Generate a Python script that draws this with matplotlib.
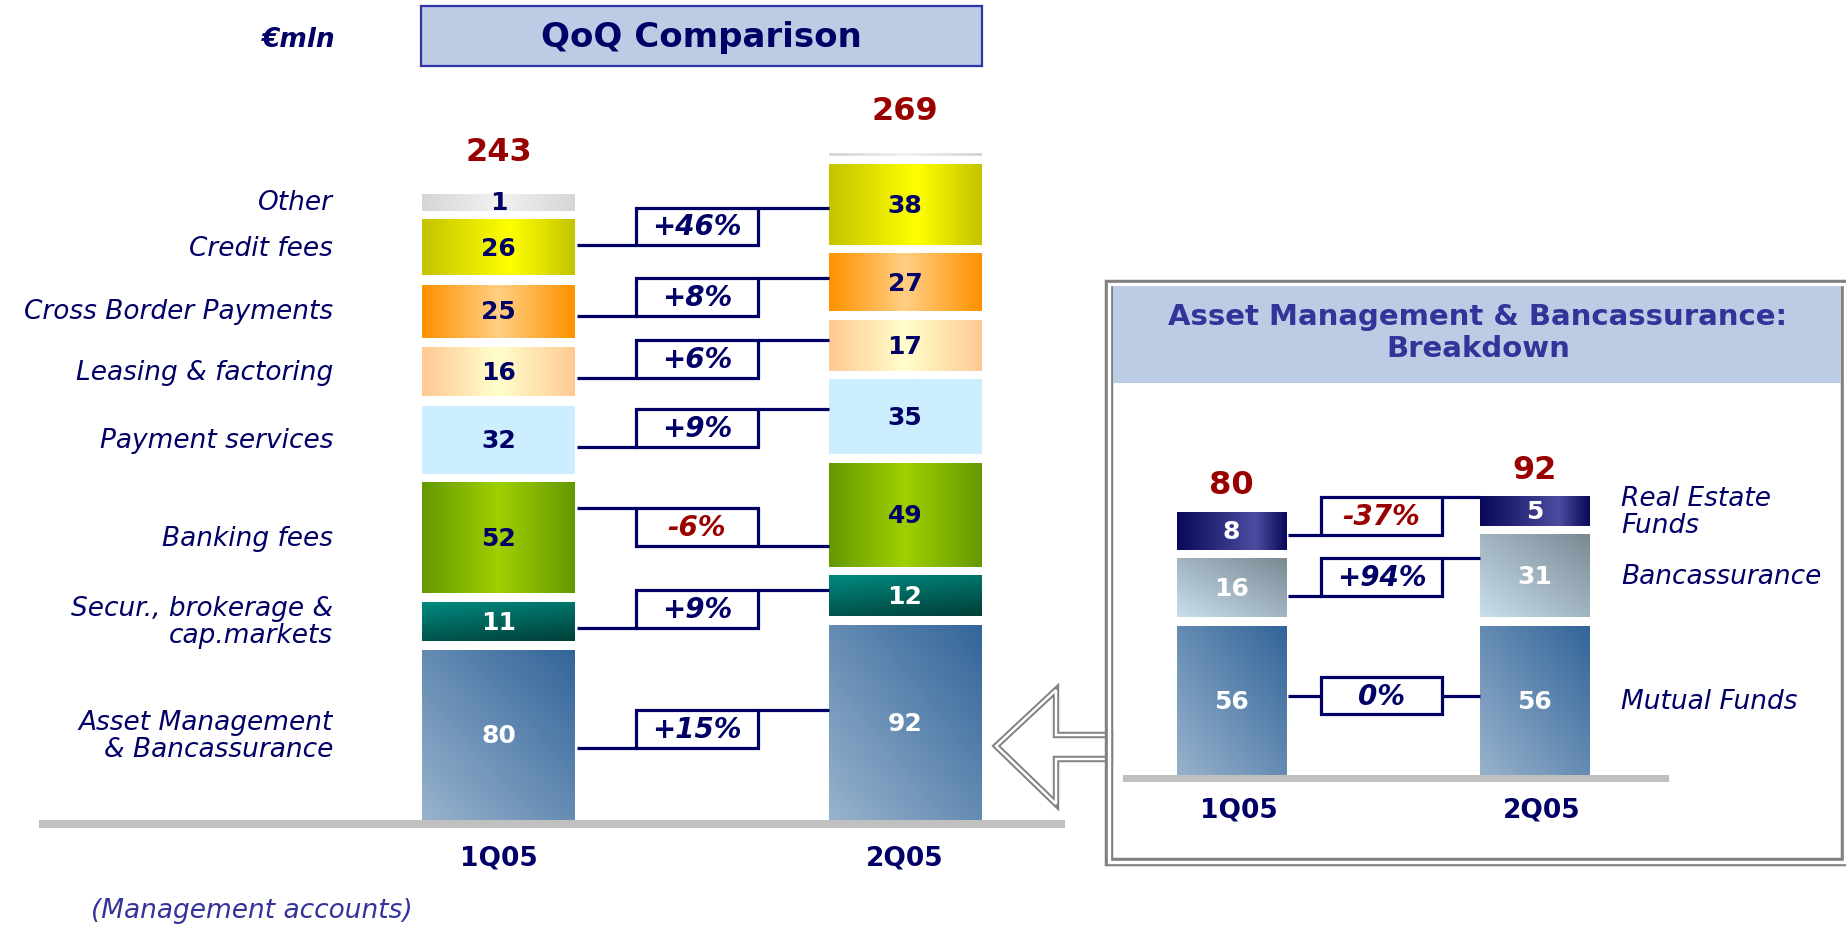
import numpy as np
import matplotlib
matplotlib.use('Agg')
import matplotlib.pyplot as plt
from matplotlib.patches import Rectangle, Polygon
from matplotlib.colors import to_rgb

# ---------------- data ----------------
periods = ['1Q05', '2Q05']
categories = ['Asset Management\n& Bancassurance', 'Secur., brokerage &\ncap.markets',
              'Banking fees', 'Payment services', 'Leasing & factoring',
              'Cross Border Payments', 'Credit fees', 'Other']
q1_values = [80, 11, 52, 32, 16, 25, 26, 1]
q2_values = [92, 12, 49, 35, 17, 27, 38, 0]
totals = [243, 269]
qoq_changes = ['+15%', '+9%', '-6%', '+9%', '+6%', '+8%', '+46%']

am_categories = ['Mutual Funds', 'Bancassurance', 'Real Estate\nFunds']
am_q1 = [56, 16, 8]
am_q2 = [56, 31, 5]
am_totals = [80, 92]
am_changes = ['0%', '+94%', '-37%']

# ---------------- styles ----------------
NAVY = '#000066'
RED = '#990000'
PURPLE = '#333399'
W, H = 1846, 928

# gradient specs per segment: (kind, color_a, color_b, centre)
left_styles = [
    ('diag', '#97b2cc', '#33659a', None),     # Asset management
    ('diag2', '#008a80', '#003f38', None),    # Secur.
    ('h3', '#669900', '#9fd000', 0.5),        # Banking
    ('flat', '#cceeff', '#cceeff', None),     # Payment
    ('h3', '#ffca94', '#ffffcc', 0.5),        # Leasing
    ('h3', '#ff9200', '#ffcf85', 0.5),        # Cross border
    ('h3', '#c4c400', '#ffff00', 0.58),       # Credit fees
    ('h3', '#d6d6d6', '#f2f2f2', 0.5),        # Other
]
left_text_colors = ['white', 'white', NAVY, NAVY, NAVY, NAVY, NAVY, NAVY]
am_styles = [
    ('diag', '#97b2cc', '#33659a', None),
    ('diag', '#c8dfea', '#7a8a95', None),
    ('h3', '#0a0a5c', '#4c4ca0', 0.72),
]
# connector orientation: +1 left line at box bottom / right at top, -1 reverse, 0 flat
left_link_dirs = [1, 1, -1, 1, 1, 1, 1]
am_link_dirs = [0, 1, 1]


def grad_img(kind, ca, cb, centre, n=64):
    a = np.array(to_rgb(ca))
    b = np.array(to_rgb(cb))
    xs = np.linspace(0, 1, n)
    ys = np.linspace(0, 1, n)  # row 0 = top
    X, Y = np.meshgrid(xs, ys)
    if kind == 'flat':
        t = np.zeros_like(X)
    elif kind == 'h3':
        t = np.where(X <= centre, X / centre, (1 - X) / (1 - centre))
    elif kind == 'diag':   # a at bottom-left -> b at top-right
        t = (X + (1 - Y)) / 2
    elif kind == 'diag2':  # a at top-left -> b at bottom-right
        t = (X * 0.4 + Y) / 1.4
    else:
        t = Y
    return a[None, None, :] * (1 - t[..., None]) + b[None, None, :] * t[..., None]


def stack(values, pad, gap, zero_h):
    bottoms, heights = [], []
    y = 0.0
    for i, v in enumerate(values):
        h = zero_h if v == 0 else (v + pad if v < 20 else v)
        if i > 0:
            y += gap
        bottoms.append(y)
        heights.append(h)
        y += h
    return bottoms, heights


def draw_stack(ax, x, values, bottoms, heights, width, styles, text_colors, fs):
    for v, b, h, st, tc in zip(values, bottoms, heights, styles, text_colors):
        ax.bar(x, h, bottom=b, width=width, color=st[2], linewidth=0, zorder=2)
        img = grad_img(*st)
        ax.imshow(img, extent=(x - width / 2, x + width / 2, b, b + h), origin='upper',
                  aspect='auto', interpolation='bilinear', zorder=2.5)
        if v > 0:
            ax.text(x, b + h / 2, str(v), ha='center', va='center', fontsize=fs,
                    fontweight='bold', color=tc, zorder=4)


def draw_changes(ax, changes, dirs, b1, h1, b2, h2, bar_w, box_x, box_w, box_h, y_off, fs, lw):
    for i, lab in enumerate(changes):
        c1 = b1[i] + h1[i] / 2
        c2 = b2[i] + h2[i] / 2
        cy = (c1 + c2) / 2 + y_off
        d = dirs[i]
        yl = cy - d * box_h / 2
        yr = cy + d * box_h / 2
        ax.plot([bar_w / 2 + 0.004, box_x - box_w / 2], [yl, yl], color=NAVY, lw=lw,
                solid_capstyle='butt', zorder=3)
        ax.plot([box_x + box_w / 2, 1 - bar_w / 2], [yr, yr], color=NAVY, lw=lw,
                solid_capstyle='butt', zorder=3)
        ax.add_patch(Rectangle((box_x - box_w / 2, cy - box_h / 2), box_w, box_h,
                               facecolor='white', edgecolor=NAVY, lw=lw, zorder=3.5))
        ax.text(box_x, cy, lab, ha='center', va='center', fontsize=fs, fontweight='bold',
                fontstyle='italic', color=RED if lab.startswith('-') else NAVY, zorder=4)


fig = plt.figure(figsize=(W / 100, H / 100), dpi=100)

# ---------------- decoration layer (pixel coordinates) ----------------
axD = fig.add_axes([0, 0, 1, 1])
axD.set_xlim(0, W)
axD.set_ylim(H, 0)
axD.axis('off')

axD.text(335, 40, '€mln', ha='right', va='center', fontsize=19, fontweight='bold',
         fontstyle='italic', color=NAVY)
axD.add_patch(Rectangle((421, 7), 561, 60, facecolor='#bccce4', edgecolor='#3333aa', lw=1.6))
axD.text(701, 37, 'QoQ Comparison', ha='center', va='center', fontsize=24.5,
         fontweight='bold', color=NAVY)
axD.text(91, 911, '(Management accounts)', ha='left', va='center', fontsize=19,
         fontstyle='italic', color=PURPLE)

# hollow arrow
arrow_pts = [(1110, 736), (1056, 736), (1056, 691), (996, 747), (1056, 805), (1056, 760), (1110, 760)]
axD.add_patch(Polygon(arrow_pts, closed=True, facecolor='white', edgecolor='#808080', lw=4.6,
                      joinstyle='miter'))
axD.add_patch(Polygon(arrow_pts, closed=True, facecolor='none', edgecolor='white', lw=1.8,
                      joinstyle='miter'))

# right panel
axD.add_patch(Rectangle((1109, 285), 736, 578, facecolor='none', edgecolor='#808080', lw=6.1))
axD.add_patch(Rectangle((1109, 285), 736, 578, facecolor='none', edgecolor='white', lw=2.4))
axD.add_patch(Rectangle((1113.3, 287.3), 727.4, 97, facecolor='#bccce4', edgecolor='none'))
axD.text(1478, 333, 'Asset Management & Bancassurance:\nBreakdown', ha='center', va='center',
         fontsize=21, fontweight='bold', color=PURPLE, linespacing=1.15)

# ---------------- left chart ----------------
x0_px, dx_px, base_px, s_px = 498.5, 406.5, 821.0, 2.119
axL = fig.add_axes([0, 0, 1, 1])
axL.patch.set_alpha(0)
axL.axis('off')
bar_w = 153 / dx_px

b1, h1 = stack(q1_values, 7, 4.5, 1.3)
b2, h2 = stack(q2_values, 7, 4.2, 1.3)
draw_stack(axL, 0, q1_values, b1, h1, bar_w, left_styles, left_text_colors, 18)
draw_stack(axL, 1, q2_values, b2, h2, bar_w, left_styles, left_text_colors, 18)

for i, (tot, b, h) in enumerate(zip(totals, [b1, b2], [h1, h2])):
    axL.text(i, b[-1] + h[-1] + 20, str(tot), ha='center', va='center', fontsize=23,
             fontweight='bold', color=RED)

for cat, b, h in zip(categories, b1, h1):
    axL.text(-0.407, b + h / 2, cat, ha='right', va='center', fontsize=19,
             fontstyle='italic', color=NAVY, linespacing=1.05)

draw_changes(axL, qoq_changes, left_link_dirs, b1, h1, b2, h2, bar_w, 0.488, 0.30, 17.9, 0, 20, 2.3)

axL.add_patch(Rectangle((-1.130, -3.8), 2.524, 3.8, facecolor='#c0c0c0', edgecolor='none'))
for i, p in enumerate(periods):
    axL.text(i, -17.5, p, ha='center', va='center', fontsize=19, fontweight='bold', color=NAVY)

axL.set_xlim(-x0_px / dx_px, (W - x0_px) / dx_px)
axL.set_ylim(-(H - base_px) / s_px, base_px / s_px)

# ---------------- inset chart ----------------
x0r, dxr, baser, sr = 1231.5, 303.0, 776.0, 2.649
axR = fig.add_axes([0, 0, 1, 1])
axR.patch.set_alpha(0)
axR.axis('off')
bar_wr = 110 / dxr

c1, k1 = stack(am_q1, 6, 3.5, 1.0)
c2, k2 = stack(am_q2, 6, 3.5, 1.0)
draw_stack(axR, 0, am_q1, c1, k1, bar_wr, am_styles, ['white'] * 3, 18)
draw_stack(axR, 1, am_q2, c2, k2, bar_wr, am_styles, ['white'] * 3, 18)

for i, (tot, b, h) in enumerate(zip(am_totals, [c1, c2], [k1, k2])):
    axR.text(i, b[-1] + h[-1] + 10.5, str(tot), ha='center', va='center', fontsize=23,
             fontweight='bold', color=RED)

for cat, b, h in zip(am_categories, c2, k2):
    axR.text(1.285, b + h / 2, cat, ha='left', va='center', fontsize=19,
             fontstyle='italic', color=NAVY, linespacing=1.05)

draw_changes(axR, am_changes, am_link_dirs, c1, k1, c2, k2, bar_wr, 0.495, 0.40, 14.3, 2.0, 20, 2.3)

axR.add_patch(Rectangle((-0.358, -2.64), 1.802, 2.64, facecolor='#c0c0c0', edgecolor='none'))
for i, p in enumerate(periods):
    axR.text(i + 0.025, -13.2, p, ha='center', va='center', fontsize=19, fontweight='bold',
             color=NAVY)

axR.set_xlim(-x0r / dxr, (W - x0r) / dxr)
axR.set_ylim(-(H - baser) / sr, baser / sr)

fig.savefig('out.png', dpi=100)
